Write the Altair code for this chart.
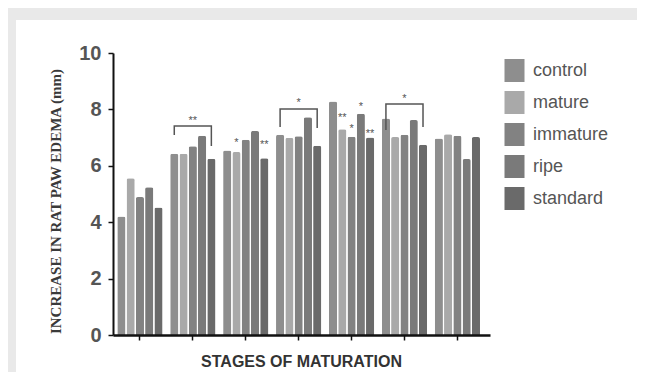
import altair as alt
import pandas as pd

# ---------------- data ----------------
stages = ["I", "II", "III", "IV", "V", "VI", "VII"]
series = ["control", "mature", "immature", "ripe", "standard"]
control = [4.20, 6.43, 6.54, 7.10, 8.28, 7.68, 6.97]
mature = [5.56, 6.43, 6.49, 6.99, 7.30, 7.02, 7.12]
immature = [4.89, 6.69, 6.92, 7.05, 7.03, 7.10, 7.07]
ripe = [5.24, 7.07, 7.23, 7.72, 7.85, 7.62, 6.24]
standard = [4.52, 6.25, 6.27, 6.71, 7.00, 6.75, 7.02]
colors = ["#8e8e8e", "#a9a9a9", "#828282", "#7a7a7a", "#6a6a6a"]

star_stage = ["II", "III", "III", "IV", "V", "V", "V", "V", "VI"]
star_series = ["immature", "mature", "standard", "immature", "mature", "immature", "ripe", "standard", "immature"]
star_y = [7.66, 6.91, 6.81, 8.33, 7.77, 7.41, 8.19, 7.23, 8.44]
star_text = ["**", "*", "**", "*", "**", "*", "*", "**", "*"]

bracket_stage = ["II", "IV", "VI"]
bracket_top = [7.41, 8.01, 8.19]
bracket_left = [7.09, 7.38, 7.27]
bracket_right = [6.70, 7.34, 7.38]

# ---------------- tables ----------------
values = [control, mature, immature, ripe, standard]
rows = []
for s, vals in zip(series, values):
    for st, v in zip(stages, vals):
        rows.append({"stage": st, "series": s, "value": v})
df = pd.DataFrame(rows)

stars = pd.DataFrame({"stage": star_stage, "series": star_series, "value": star_y, "label": star_text})

brows = []
for i, (st, t, l, r) in enumerate(zip(bracket_stage, bracket_top, bracket_left, bracket_right)):
    brows += [
        {"id": i, "ord": 0, "stage": st, "series": "control", "value": l},
        {"id": i, "ord": 1, "stage": st, "series": "control", "value": t},
        {"id": i, "ord": 2, "stage": st, "series": "standard", "value": t},
        {"id": i, "ord": 3, "stage": st, "series": "standard", "value": r},
    ]
brackets = pd.DataFrame(brows)

W, H = 377, 282
PL, PT, PR, PB = 105, 45, 147, 37

xscale = alt.Scale(domain=stages, paddingInner=0.145, paddingOuter=0.135, align=0.3)
oscale = alt.Scale(domain=series, paddingInner=0.12)

x_enc = alt.X("stage:N", scale=xscale, sort=stages,
              axis=alt.Axis(labels=False, title="STAGES OF MATURATION", zindex=1,
                            domainColor="#111", domainWidth=2.5,
                            tickColor="#111", tickSize=5, tickWidth=1.5,
                            titleFont="Liberation Sans", titleFontSize=16,
                            titleFontWeight="bold", titleColor="#333",
                            titleX=188, titleY=31, titleBaseline="alphabetic"))
y_enc = alt.Y("value:Q", scale=alt.Scale(domain=[0, 10], nice=False),
              axis=alt.Axis(values=[0, 2, 4, 6, 8, 10], grid=False, zindex=1,
                            title="INCREASE IN RAT PAW EDEMA (mm)",
                            domainColor="#111", domainWidth=2,
                            tickColor="#111", tickSize=5, tickWidth=1.5,
                            labelFont="Liberation Sans", labelFontSize=20,
                            labelFontWeight="bold", labelColor="#555",
                            labelPadding=7,
                            titleFont="Liberation Serif", titleFontSize=15,
                            titleFontWeight="bold", titleColor="#3a3a3a",
                            titleAngle=270, titleX=-53, titleY=148,
                            titleAlign="center", titleBaseline="alphabetic"))

panel = alt.Chart(alt.Data(values=[{}])).mark_rect(color="white").encode(
    x=alt.value(-97), x2=alt.value(W + 147), y=alt.value(-33), y2=alt.value(H + PB)
)

bars = alt.Chart(df).mark_bar(cornerRadiusTopLeft=2, cornerRadiusTopRight=2).encode(
    x=x_enc,
    xOffset=alt.XOffset("series:N", scale=oscale, sort=series),
    y=y_enc,
    color=alt.Color("series:N", scale=alt.Scale(domain=series, range=colors),
                    legend=alt.Legend(title=None, orient="none", legendX=390, legendY=6,
                                      symbolType="M-0.87,-1L0.87,-1L0.87,1L-0.87,1Z",
                                      symbolSize=529, symbolStrokeWidth=0,
                                      labelFont="Liberation Sans", labelFontSize=18,
                                      labelColor="#555", labelOffset=7,
                                      rowPadding=9, padding=0)),
)

star_layer = alt.Chart(stars).mark_text(font="Liberation Sans", fontSize=11, color="#555",
                                        baseline="middle", dy=2.5).encode(
    x=alt.X("stage:N", scale=xscale, sort=stages),
    xOffset=alt.XOffset("series:N", scale=oscale, sort=series),
    y=alt.Y("value:Q"),
    text="label:N",
)

bracket_layer = alt.Chart(brackets).mark_line(color="#555", strokeWidth=1.5).encode(
    x=alt.X("stage:N", scale=xscale, sort=stages),
    xOffset=alt.XOffset("series:N", scale=oscale, sort=series),
    y=alt.Y("value:Q"),
    detail="id:N",
    order="ord:Q",
)

chart = alt.layer(panel, bars, bracket_layer, star_layer).properties(
    width=W, height=H,
    autosize=alt.AutoSizeParams(type="none"),
    padding={"left": PL, "top": PT, "right": PR, "bottom": PB},
    background="#e9e9e9",
).configure_view(stroke=None)

chart.save("out.html", embed_options={"renderer": "svg", "actions": False})
